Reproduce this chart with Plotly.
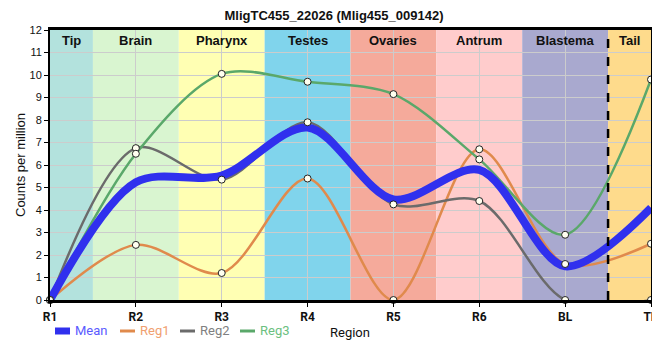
import plotly.graph_objects as go

categories = ["R1", "R2", "R3", "R4", "R5", "R6", "BL", "TP"]
reg1 = [0, 2.45, 1.2, 5.4, 0, 6.7, 1.6, 2.5]
reg2 = [0, 6.75, 5.35, 7.9, 4.25, 4.4, 0, 0]
reg3 = [0, 6.5, 10.05, 9.7, 9.15, 6.25, 2.9, 9.8]
mean = [round((a + b + c) / 3, 3) for a, b, c in zip(reg1, reg2, reg3)]

bands = ["Tip", "Brain", "Pharynx", "Testes", "Ovaries", "Antrum", "Blastema", "Tail"]
band_colors = ["#b3e2dd", "#d9f5d0", "#ffffb3", "#80d4ec", "#f5aa9b", "#ffcccc", "#a9a9cf", "#fedb8c"]

title = "MligTC455_22026 (Mlig455_009142)"

xs = list(range(len(categories)))

# page offset of the figure inside the browser (default body margin)
O = 8
W, H = 652, 344
L, R, T, B = 42, 9, 22, 52
PW, PH = W - L - R, H - T - B


def px(x):
    """page x pixel -> paper coord"""
    return (x - O - L) / PW


def py(y):
    """page y pixel -> paper coord"""
    return (H - B - (y - O)) / PH


fig = go.Figure()

series = [
    ("Mean", mean, "#3030ee", 8, "#5b5bff"),
    ("Reg1", reg1, "#e08a4c", 2.5, "#f0a070"),
    ("Reg2", reg2, "#6b6b6b", 2.5, "#808080"),
    ("Reg3", reg3, "#5aa86a", 2.5, "#6cbf80"),
]
for i in [1, 2, 3, 0]:
    name, ys, col, w, tcol = series[i]
    fig.add_trace(go.Scatter(
        x=xs, y=ys, mode="lines", name=name, showlegend=False,
        line=dict(color=col, width=w, shape="spline", smoothing=0.9),
        cliponaxis=False,
    ))
for i in [1, 2, 3]:
    name, ys, col, w, tcol = series[i]
    fig.add_trace(go.Scatter(
        x=xs, y=ys, mode="markers", name=name, showlegend=False,
        marker=dict(size=7, color="#fffff0", line=dict(color="#222222", width=1)),
        cliponaxis=False,
    ))

shapes = []
for i, c in enumerate(band_colors):
    x0 = max(i - 0.5, 0)
    x1 = min(i + 0.5, len(categories) - 1)
    shapes.append(dict(type="rect", xref="x", yref="y", x0=x0, x1=x1, y0=0, y1=12,
                       fillcolor=c, line=dict(width=0), layer="below"))
shapes.append(dict(type="line", xref="x", yref="y", x0=6.5, x1=6.5, y0=0, y1=12,
                   line=dict(color="black", width=2.5, dash="dash"), layer="above"))

annotations = []
for i, b in enumerate(bands):
    x0 = max(i - 0.5, 0)
    x1 = min(i + 0.5, len(categories) - 1)
    annotations.append(dict(x=(x0 + x1) / 2, y=11.55, xref="x", yref="y", text=f"<b>{b}</b>",
                            showarrow=False, font=dict(size=13, color="#111111", family="Liberation Sans")))

# custom legend (line swatch + coloured label), page pixel positions
legend_items = [(0, 55, 70, 73), (1, 120, 135, 138), (2, 180, 195, 198), (3, 240, 255, 258)]
ly = 331
for i, x0, x1, tx in legend_items:
    name, ys, col, w, tcol = series[i]
    shapes.append(dict(type="line", xref="paper", yref="paper", x0=px(x0), x1=px(x1),
                       y0=py(ly), y1=py(ly), line=dict(color=col, width=7 if i == 0 else 3)))
    annotations.append(dict(x=px(tx), y=py(ly), xref="paper", yref="paper", xanchor="left",
                            yanchor="middle", text=name, showarrow=False,
                            font=dict(size=13, color=tcol, family="Roboto")))

# axis titles
annotations.append(dict(x=px(350), y=py(332), xref="paper", yref="paper", xanchor="center",
                        yanchor="middle", text="Region", showarrow=False,
                        font=dict(size=13, color="#111111", family="Roboto")))
annotations.append(dict(x=px(20), y=py(165), xref="paper", yref="paper", xanchor="center",
                        yanchor="middle", text="Counts per million", showarrow=False, textangle=-90,
                        font=dict(size=13, color="#111111", family="Liberation Sans")))

fig.update_layout(
    width=W, height=H,
    margin=dict(l=L, r=R, t=T, b=B),
    paper_bgcolor="white", plot_bgcolor="white",
    title=dict(text=f"<b>{title}</b>", x=0.5, xanchor="center", y=1.0, yanchor="top",
               pad=dict(t=3, b=0, l=0, r=0),
               font=dict(size=13, family="Liberation Sans", color="#111111")),
    shapes=shapes, annotations=annotations,
    showlegend=False,
    font=dict(family="Roboto", color="#111111"),
)
fig.update_xaxes(
    range=[0, 7], tickmode="array", tickvals=xs, ticktext=[f"<b>{c}</b>" for c in categories],
    showgrid=True, gridcolor="#cccccc", gridwidth=1,
    showline=True, linecolor="black", linewidth=2.5, mirror=True,
    ticks="outside", ticklen=4, tickcolor="black",
    tickfont=dict(size=12, family="Roboto"), ticklabeloverflow="allow",
    zeroline=False, automargin=False,
)
fig.update_yaxes(
    range=[0, 12], tickmode="linear", tick0=0, dtick=1,
    showgrid=True, gridcolor="#cccccc", gridwidth=1,
    showline=True, linecolor="black", linewidth=2, mirror=True,
    ticks="outside", ticklen=4, tickcolor="black",
    tickfont=dict(size=11, family="Liberation Sans"),
    zeroline=False, automargin=False,
)

fig.write_html("out.html")
